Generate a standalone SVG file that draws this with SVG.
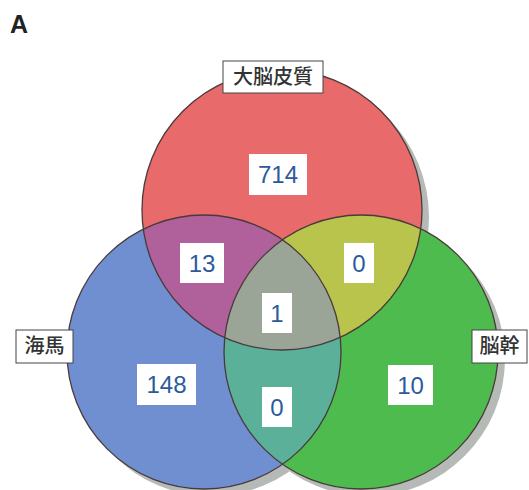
<svg xmlns="http://www.w3.org/2000/svg" width="529" height="490" viewBox="0 0 529 490">
<style>
.edge{fill:none;stroke:#4a3a3a;stroke-width:1.3}
.lbl{fill:#ffffff;stroke:#444;stroke-width:1}
.lt{font-family:"Noto Sans CJK JP","Noto Sans",sans-serif;font-size:20px;font-weight:500;fill:#333;text-anchor:middle}
.nb{fill:#ffffff}
.nt{font-family:"Liberation Sans",Arial,sans-serif;font-size:24px;fill:#2b5b9b;text-anchor:middle}
.sh{fill:#b6bab6}
</style>
<defs>
<clipPath id="cr"><circle cx="282" cy="210" r="140"/></clipPath>
<clipPath id="cb"><circle cx="204" cy="352" r="137"/></clipPath>
<clipPath id="cg"><circle cx="361" cy="352" r="137"/></clipPath>
</defs>
<rect width="529" height="490" fill="#ffffff"/>
<text x="10" y="33" font-family="Liberation Sans,Arial,sans-serif" font-size="25" font-weight="bold" fill="#222">A</text>
<g id="shadow">
<circle class="sh" cx="289" cy="217" r="140"/>
<circle class="sh" cx="211" cy="359" r="137"/>
<circle class="sh" cx="368" cy="359" r="137"/>
</g>
<g id="circles">
<circle cx="282" cy="210" r="140" fill="#e86a6a"/>
<circle cx="204" cy="352" r="137" fill="#6f8fd0"/>
<circle cx="361" cy="352" r="137" fill="#4dbb4d"/>
<circle cx="204" cy="352" r="137" fill="#b0609a" clip-path="url(#cr)"/>
<circle cx="361" cy="352" r="137" fill="#b8c44c" clip-path="url(#cr)"/>
<circle cx="361" cy="352" r="137" fill="#5bb09a" clip-path="url(#cb)"/>
<g clip-path="url(#cr)"><circle cx="361" cy="352" r="137" fill="#9aa598" clip-path="url(#cb)"/></g>
<circle class="edge" cx="282" cy="210" r="140"/>
<circle class="edge" cx="204" cy="352" r="137"/>
<circle class="edge" cx="361" cy="352" r="137"/>
</g>
<g id="label-cortex"><rect class="lbl" x="223" y="61" width="100" height="32"/><text class="lt" x="273" y="84">大脳皮質</text></g>
<g id="label-hippo"><rect class="lbl" x="16" y="330" width="57" height="33"/><text class="lt" x="44.5" y="353">海馬</text></g>
<g id="label-stem"><rect class="lbl" x="472" y="330" width="55" height="33"/><text class="lt" x="499.5" y="353">脳幹</text></g>
<g id="n714"><rect class="nb" x="249" y="154" width="58" height="41"/><text class="nt" x="278" y="183">714</text></g>
<g id="n13"><rect class="nb" x="180" y="243" width="44" height="40"/><text class="nt" x="202" y="272">13</text></g>
<g id="n0a"><rect class="nb" x="344" y="243" width="30" height="40"/><text class="nt" x="359" y="272">0</text></g>
<g id="n1"><rect class="nb" x="262" y="293" width="30" height="40"/><text class="nt" x="277" y="322">1</text></g>
<g id="n148"><rect class="nb" x="137" y="364" width="59" height="41"/><text class="nt" x="166.5" y="393">148</text></g>
<g id="n0b"><rect class="nb" x="262" y="387" width="30" height="40"/><text class="nt" x="277" y="416">0</text></g>
<g id="n10"><rect class="nb" x="388" y="365" width="45" height="40"/><text class="nt" x="410.5" y="394">10</text></g>
</svg>
